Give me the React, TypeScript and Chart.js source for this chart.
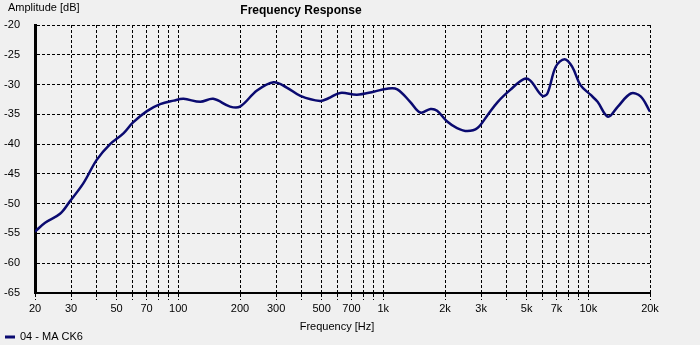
import React, { useEffect, useRef } from 'react';
import { Chart, registerables } from 'chart.js';

Chart.register(...registerables);

const freqs = [20, 22.4, 26.5, 29.6, 34.4, 40, 46.5, 54, 60, 70, 81.6, 95, 106, 128, 148, 179, 200, 242, 292, 338, 394, 492, 540, 617, 744, 898, 1044, 1170, 1352, 1516, 1700, 1830, 2050, 2290, 2570, 2880, 3230, 3620, 4160, 4840, 5200, 5960, 6320, 6940, 7660, 8340, 9160, 10280, 11100, 12480, 13940, 16120, 18000, 20000];
const amps = [-54.7, -53.2, -51.7, -49.6, -46.6, -42.65, -40.0, -38.2, -36.4, -34.5, -33.3, -32.7, -32.4, -32.9, -32.4, -33.7, -33.7, -31.0, -29.6, -30.5, -31.9, -32.75, -32.3, -31.4, -31.7, -31.2, -30.7, -30.8, -32.9, -34.7, -34.1, -34.4, -36.2, -37.3, -37.8, -37.3, -35.1, -32.9, -30.9, -29.1, -29.3, -31.9, -31.5, -27.0, -25.75, -27.0, -30.1, -31.75, -32.9, -35.4, -33.7, -31.5, -32.0, -34.55];

const gridFreqs = [20, 30, 40, 50, 60, 70, 80, 90, 100, 200, 300, 400, 500, 600, 700, 800, 900, 1000, 2000, 3000, 4000, 5000, 6000, 7000, 8000, 9000, 10000, 20000];
const labeledFreqs = [20, 30, 50, 70, 100, 200, 300, 500, 700, 1000, 2000, 3000, 5000, 7000, 10000, 20000];
const tickLabels = ['20', '30', '50', '70', '100', '200', '300', '500', '700', '1k', '2k', '3k', '5k', '7k', '10k', '20k'];

const yMin = -65;
const yMax = -20;
const yStep = 5;

const seriesName = '04 - MA CK6';
const chartTitle = 'Frequency Response';
const xTitle = 'Frequency [Hz]';
const yTitle = 'Amplitude [dB]';

const LINE_COLOR = '#0a0a70';
const FONT = '"Liberation Sans", Arial, sans-serif';

export default function App() {
  const ref = useRef<HTMLCanvasElement>(null);

  useEffect(() => {
    document.body.style.margin = '0';
    document.body.style.background = '#f0f0f0';
    const canvas = ref.current!;
    const textPlugin = {
      id: 'texts',
      beforeDraw(chart: any) {
        const ctx = chart.ctx;
        ctx.save();
        ctx.fillStyle = '#f0f0f0';
        ctx.fillRect(0, 0, chart.width, chart.height);
        ctx.restore();
      },
      afterDraw(chart: any) {
        const ctx = chart.ctx;
        ctx.save();
        ctx.fillStyle = '#000';
        ctx.textBaseline = 'middle';
        ctx.font = `11px ${FONT}`;
        ctx.textAlign = 'left';
        ctx.fillText(yTitle, 8, 8);
        ctx.textAlign = 'center';
        ctx.fillText(xTitle, 337, 327);
        ctx.font = `bold 12px ${FONT}`;
        ctx.fillText(chartTitle, 301, 11);
        ctx.strokeStyle = LINE_COLOR;
        ctx.lineWidth = 3;
        ctx.beginPath();
        ctx.moveTo(5, 337);
        ctx.lineTo(15, 337);
        ctx.stroke();
        ctx.font = `11px ${FONT}`;
        ctx.textAlign = 'left';
        ctx.fillText(seriesName, 20, 337);
        ctx.restore();
      },
    };

    const chart = new Chart(canvas, {
      type: 'line',
      data: {
        datasets: [
          {
            label: seriesName,
            data: freqs.map((f, i) => ({ x: f, y: amps[i] })),
            borderColor: LINE_COLOR,
            borderWidth: 2.5,
            pointRadius: 0,
            tension: 0.35,
            fill: false,
          },
        ],
      },
      options: {
        animation: false,
        responsive: false,
        maintainAspectRatio: false,
        layout: { padding: { left: 0, right: 50, top: 25, bottom: 0 } },
        plugins: {
          legend: { display: false },
          title: { display: false },
          tooltip: { enabled: false },
        },
        scales: {
          x: {
            type: 'logarithmic',
            min: 20,
            max: 20000,
            afterBuildTicks: (scale: any) => {
              scale.ticks = gridFreqs.map((v) => ({ value: v }));
            },
            afterFit: (scale: any) => {
              scale.height = 52;
            },
            ticks: {
              autoSkip: false,
              maxRotation: 0,
              minRotation: 0,
              padding: 2,
              color: '#000',
              font: { family: FONT, size: 11 },
              callback: (value: any) => {
                const idx = labeledFreqs.indexOf(Number(value));
                return idx >= 0 ? tickLabels[idx] : '';
              },
            },
            grid: {
              color: '#000',
              lineWidth: 1,
              drawTicks: true,
              tickLength: 7,
              tickColor: '#000',
              tickBorderDash: [3, 2],
            },
            border: { display: true, color: '#000', width: 2, dash: [3, 2] },
          },
          y: {
            type: 'linear',
            min: yMin,
            max: yMax,
            afterFit: (scale: any) => {
              scale.width = 35;
            },
            ticks: {
              stepSize: yStep,
              padding: 15,
              color: '#000',
              font: { family: FONT, size: 11 },
            },
            grid: {
              color: '#000',
              lineWidth: 1,
              drawTicks: false,
            },
            border: { display: true, color: '#000', width: 3, dash: [3, 2] },
          },
        },
      },
      plugins: [textPlugin],
    } as any);
    return () => chart.destroy();
  }, []);

  return (
    <div style={{ position: 'fixed', left: 0, top: 0, width: 700, height: 345, background: '#f0f0f0' }}>
      <canvas ref={ref} width={700} height={345} style={{ width: 700, height: 345 }} />
    </div>
  );
}
